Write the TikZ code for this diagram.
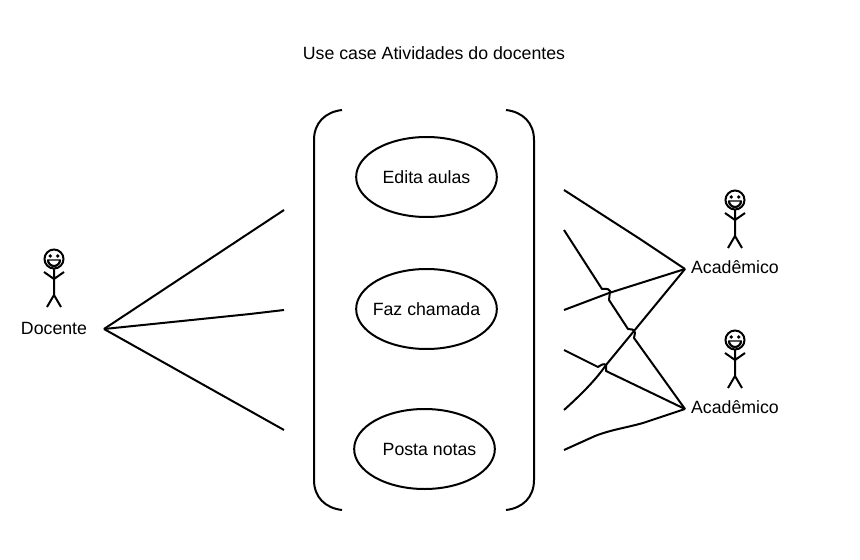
\documentclass[tikz,border=0pt]{standalone}
\usepackage{fontspec}
\setmainfont{Liberation Sans}
\usetikzlibrary{shapes.geometric}
\tikzstyle{caso} = [draw,ellipse,line width=1.5pt,minimum width=105.5pt,minimum height=60pt,inner sep=-12pt]
\tikzstyle{linha} = [line width=1.5pt,line join=round]
\tikzstyle{boneco} = [line width=1.5pt]
\begin{document}
\begin{tikzpicture}[x=0.75pt,y=-0.75pt,font=\fontsize{13.3pt}{15pt}\selectfont]
                \useasboundingbox (0,0) rectangle (860,560);
                \node (titulo) at (434,53) {Use case Atividades do docentes};
                \node[caso] (edita) at (426.5,177) {Edita aulas};
                \node[caso] (chamada) at (426.5,309) {Faz chamada};
                \node[caso] (posta) at (424.5,449) {\hspace{7.5pt}Posta notas};
                % chaves
                \draw[linha] (342,110) .. controls (325,112) and (314,123) .. (314,140) -- (314,480) .. controls (314,497) and (325,508) .. (342,510);
                \draw[linha] (506,110) .. controls (523,112) and (534,123) .. (534,140) -- (534,480) .. controls (534,497) and (523,508) .. (506,510);
                % atores
                \foreach \x/\y in {54/259,735/200,735/340}{
                    \begin{scope}[shift={(\x,\y)}]
                        \draw[boneco] (0,0) circle[radius=9.5];
                        \fill (-3.8,-3) circle[radius=1.9];
                        \fill (3.8,-3) circle[radius=1.9];
                        \draw[line width=1pt,fill=white] (-6,1) -- (6,1) arc[start angle=0,end angle=180,radius=6] -- cycle;
                        \draw[line width=1.6pt] (-6,1) arc[start angle=180,end angle=0,radius=6];
                        \draw[boneco] (0,9.5) -- (0,36) (-10,13) -- (0,20) -- (10,13) (-7,48) -- (0,36) -- (7,48);
                    \end{scope}
                }
                \node (docente) at (54,328) {Docente};
                \node (academico1) at (735,267.5) {Acadêmico};
                \node (academico2) at (735,407.5) {Acadêmico};
                \coordinate (docenteponta) at (104,329);
                \coordinate (ac1ponta) at (685,269);
                \coordinate (ac2ponta) at (685,409);
                % pontas soltas
                \foreach \n/\x/\y in {a/284/210,b/284/310,c/284/430,d/564/190,e/564/230,f/564/310,g/564/350,h/564/410,i/564/450}{
                    \coordinate (\n) at (\x,\y);
                }
                \draw[linha] (docenteponta) -- (a);
                \draw[linha] (docenteponta) -- (250,314) -- (b);
                \draw[linha] (docenteponta) -- (c);
                \draw[linha] (d) -- (640,239) -- (ac1ponta);
                \draw[linha] (f) -- (609,293) -- (ac1ponta);
                \draw[linha] (h) .. controls (585,391) and (597,378) .. (606,365) -- (ac1ponta);
                \draw[linha] (e) -- (602,289) .. controls (605,290) and (607,287) .. (610,291) -- (609,300) -- (628,329) .. controls (631,330) and (634,328) .. (635,333) -- (634,338) -- (ac2ponta);
                \draw[linha] (g) -- (598,367) .. controls (601,365) and (604,363) .. (606,365) -- (606,371) -- (ac2ponta);
                \draw[linha] (i) -- (595,436) .. controls (610,430) and (625,428) .. (643,423) -- (ac2ponta);
            \end{tikzpicture}
\end{document}
